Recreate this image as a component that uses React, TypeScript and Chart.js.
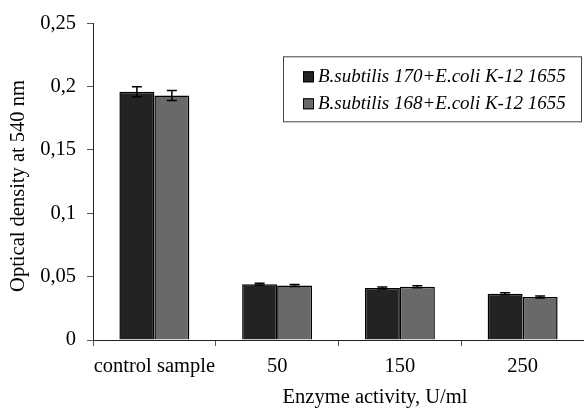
import React, { useEffect, useRef } from "react";
import { Chart, registerables } from "chart.js";

Chart.register(...registerables);

const categories = ["control sample", "50", "150", "250"];
const series1Label = "B.subtilis 170+E.coli K-12 1655";
const series2Label = "B.subtilis 168+E.coli K-12 1655";
const series1Values = [0.196, 0.044, 0.041, 0.0365];
const series2Values = [0.193, 0.043, 0.042, 0.034];
const series1Errors = [0.004, 0.0008, 0.0008, 0.0008];
const series2Errors = [0.004, 0.0008, 0.0008, 0.0008];
const yTicks = [0, 0.05, 0.1, 0.15, 0.2, 0.25];
const yTitle = "Optical density at 540 nm";
const xTitle = "Enzyme activity, U/ml";

const SERIF = "'Liberation Serif', 'Times New Roman', serif";

const errorBarPlugin = {
  id: "errorBars",
  afterDatasetsDraw(chart: any) {
    const ctx = chart.ctx;
    const yScale = chart.scales.y;
    chart.data.datasets.forEach((ds: any, i: number) => {
      const meta = chart.getDatasetMeta(i);
      meta.data.forEach((el: any, j: number) => {
        const v = ds.data[j];
        const e = ds.errors[j];
        const yTop = yScale.getPixelForValue(v + e);
        const yBot = yScale.getPixelForValue(v - e);
        const x = el.x;
        ctx.save();
        ctx.strokeStyle = "#000";
        ctx.lineWidth = 1.5;
        ctx.beginPath();
        ctx.moveTo(x, yTop);
        ctx.lineTo(x, yBot);
        ctx.moveTo(x - 5, yTop);
        ctx.lineTo(x + 5, yTop);
        ctx.moveTo(x - 5, yBot);
        ctx.lineTo(x + 5, yBot);
        ctx.stroke();
        ctx.restore();
      });
    });
  },
};

const legendTitlesPlugin = {
  id: "legendTitles",
  afterDraw(chart: any) {
    const ctx = chart.ctx;
    const area = chart.chartArea;
    ctx.save();
    // legend box
    const bx = area.left + 190;
    const by = area.top + 33;
    const bw = area.right - 3 - bx;
    const bh = 65;
    ctx.fillStyle = "#fff";
    ctx.fillRect(bx, by, bw, bh);
    ctx.strokeStyle = "#444";
    ctx.lineWidth = 1;
    ctx.strokeRect(bx + 0.5, by + 0.5, bw, bh);
    ctx.font = "italic 19px " + SERIF;
    ctx.textBaseline = "middle";
    ctx.textAlign = "left";
    chart.data.datasets.forEach((ds: any, i: number) => {
      const cy = by + 20 + i * 27;
      ctx.fillStyle = ds.backgroundColor;
      ctx.fillRect(bx + 20, cy - 5, 11, 11);
      ctx.strokeStyle = "#000";
      ctx.lineWidth = 1;
      ctx.strokeRect(bx + 20.5, cy - 4.5, 10, 10);
      ctx.fillStyle = "#000";
      ctx.fillText(ds.label, bx + 35, cy + 1);
    });
    // axis titles
    ctx.fillStyle = "#000";
    ctx.font = "20.5px " + SERIF;
    ctx.textAlign = "center";
    ctx.textBaseline = "alphabetic";
    ctx.fillText(xTitle, 375, 403);
    ctx.save();
    ctx.translate(24, 186);
    ctx.rotate(-Math.PI / 2);
    ctx.fillText(yTitle, 0, 0);
    ctx.restore();
    ctx.restore();
  },
};

function fmt(v: number) {
  const s = Number(v.toFixed(2)).toString();
  return s.replace(".", ",");
}

export default function App() {
  const ref = useRef<HTMLCanvasElement>(null);
  useEffect(() => {
    if (!ref.current) return;
    const chart = new Chart(ref.current, {
      type: "bar",
      data: {
        labels: categories,
        datasets: [
          {
            label: series1Label,
            data: series1Values,
            errors: series1Errors,
            backgroundColor: "#232323",
            borderColor: "#000",
            borderWidth: 1.5,
            categoryPercentage: 0.57,
            barPercentage: 1,
          } as any,
          {
            label: series2Label,
            data: series2Values,
            errors: series2Errors,
            backgroundColor: "#696969",
            borderColor: "#000",
            borderWidth: 1.5,
            categoryPercentage: 0.57,
            barPercentage: 1,
          } as any,
        ],
      },
      options: {
        responsive: false,
        animation: false,
        devicePixelRatio: 1,
        layout: { padding: { top: 20, left: 0, right: 0, bottom: 0 } },
        plugins: {
          legend: { display: false },
          tooltip: { enabled: false },
          title: { display: false },
        },
        scales: {
          x: {
            afterFit(scale: any) {
              scale.height = 70;
            },
            grid: {
              display: true,
              drawOnChartArea: false,
              drawTicks: true,
              tickLength: 6,
              color: "#555",
              offset: true,
            },
            border: { display: true, color: "#222", width: 1 },
            ticks: {
              color: "#000",
              padding: 8,
              autoSkip: false,
              font: { family: SERIF, size: 20.5 },
              maxRotation: 0,
              minRotation: 0,
            },
          },
          y: {
            min: 0,
            max: 0.25,
            afterFit(scale: any) {
              scale.width = 93;
            },
            afterBuildTicks(scale: any) {
              scale.ticks = yTicks.map((v) => ({ value: v }));
            },
            grid: {
              display: true,
              drawOnChartArea: false,
              drawTicks: true,
              tickLength: 6,
              color: "#555",
            },
            border: { display: true, color: "#222", width: 1 },
            ticks: {
              color: "#000",
              padding: 11,
              font: { family: SERIF, size: 20.5 },
              callback: (v: any) => fmt(Number(v)),
            },
          },
        },
      } as any,
      plugins: [errorBarPlugin, legendTitlesPlugin],
    });
    return () => chart.destroy();
  }, []);
  return (
    <div style={{ position: "fixed", left: 0, top: 0, width: 584, height: 410, background: "#fff" }}>
      <canvas ref={ref} width={584} height={410} style={{ width: 584, height: 410, display: "block" }} />
    </div>
  );
}
